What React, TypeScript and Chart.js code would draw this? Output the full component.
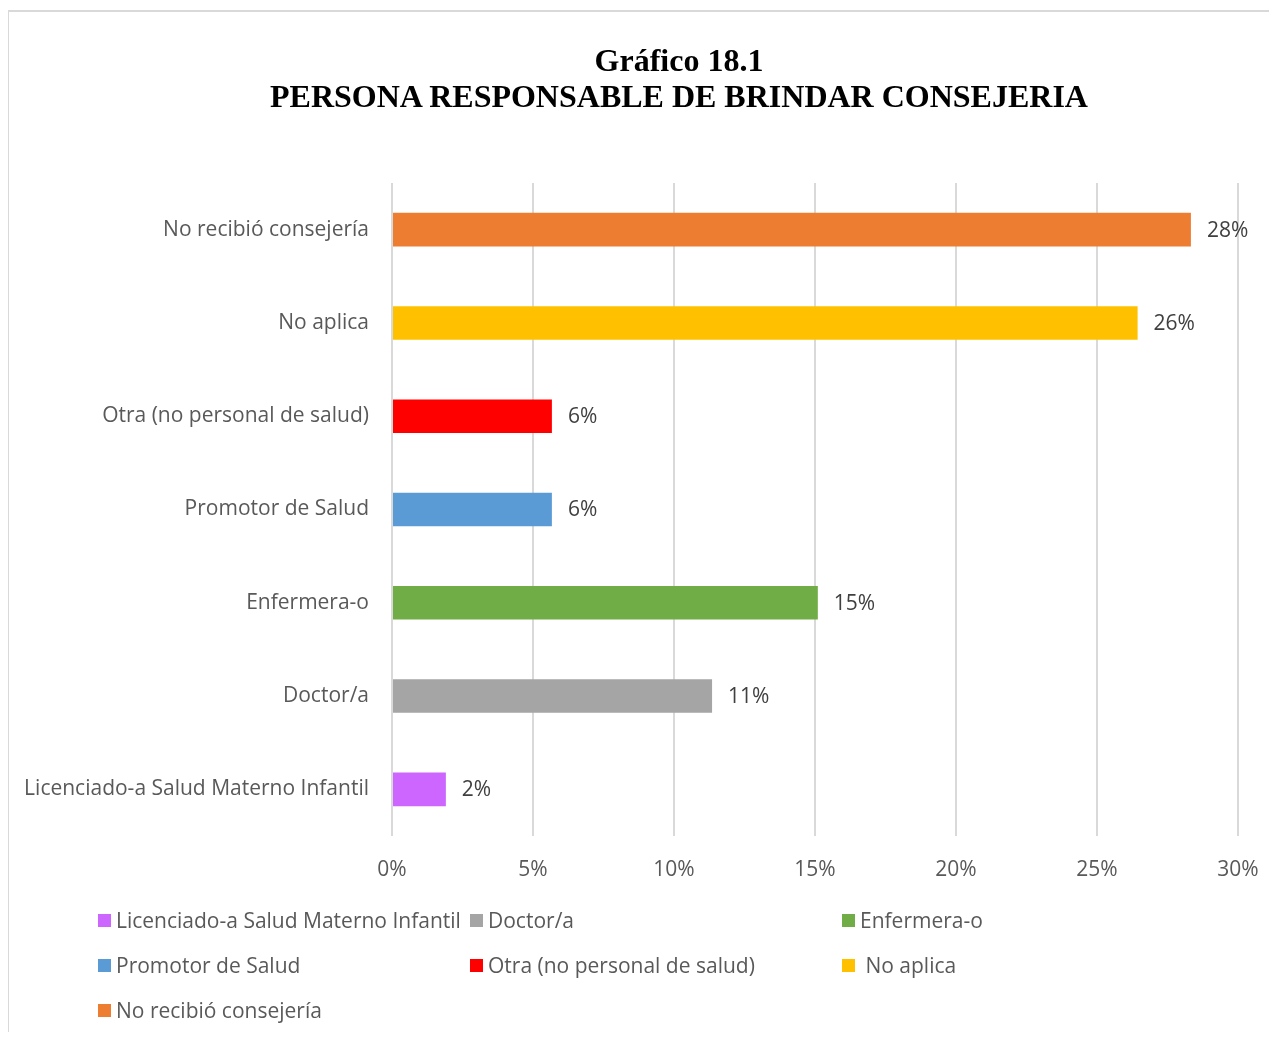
import React, { useEffect, useRef } from "react";
import { Chart, registerables } from "chart.js";

Chart.register(...registerables);

const titleLines = ["Gráfico 18.1", "PERSONA RESPONSABLE DE BRINDAR CONSEJERIA"];

const categories = [
  "No recibió consejería",
  "No aplica",
  "Otra (no personal de salud)",
  "Promotor de Salud",
  "Enfermera-o",
  "Doctor/a",
  "Licenciado-a Salud Materno Infantil",
];
const values = [28.33, 26.44, 5.67, 5.67, 15.1, 11.35, 1.91];
const valueLabels = ["28%", "26%", "6%", "6%", "15%", "11%", "2%"];
const barColors = ["#ED7D31", "#FFC000", "#FF0000", "#5B9BD5", "#70AD47", "#A5A5A5", "#CC66FF"];

const xMin = 0;
const xMax = 30;
const xStep = 5;

const legendLabels = [
  "Licenciado-a Salud Materno Infantil",
  "Doctor/a",
  "Enfermera-o",
  "Promotor de Salud",
  "Otra (no personal de salud)",
  " No aplica",
  "No recibió consejería",
];
const legendColors = ["#CC66FF", "#A5A5A5", "#70AD47", "#5B9BD5", "#FF0000", "#FFC000", "#ED7D31"];

const FONT = "'Open Sans', sans-serif";
const FONT_SIZE = 21;

const CANVAS_W = 1261;
const CANVAS_H = 1024;

export default function App() {
  const ref = useRef<HTMLCanvasElement | null>(null);

  useEffect(() => {
    if (!ref.current) return;
    const labelPlugin = {
      id: "valueLabels",
      afterDatasetsDraw(chart: any) {
        const ctx = chart.ctx;
        const meta = chart.getDatasetMeta(0);
        ctx.save();
        ctx.font = `${FONT_SIZE}px ${FONT}`;
        ctx.fillStyle = "#404040";
        ctx.textAlign = "left";
        ctx.textBaseline = "middle";
        meta.data.forEach((bar: any, i: number) => {
          ctx.fillText(valueLabels[i], bar.x + 16, bar.y + 1);
        });
        ctx.restore();
      },
    };

    const chart = new Chart(ref.current, {
      type: "bar",
      data: {
        labels: categories,
        datasets: [
          {
            data: values,
            backgroundColor: barColors,
            borderWidth: 0,
            barPercentage: 0.36,
            categoryPercentage: 1,
          },
        ],
      },
      options: {
        indexAxis: "y",
        animation: false,
        responsive: false,
        maintainAspectRatio: false,
        layout: { padding: { top: 175, right: 31, bottom: 0, left: 0 } },
        plugins: {
          legend: { display: false },
          title: { display: false },
          tooltip: { enabled: false },
        },
        scales: {
          x: {
            min: xMin,
            max: xMax,
            ticks: {
              stepSize: xStep,
              padding: 21,
              color: "#595959",
              font: { family: FONT, size: FONT_SIZE },
              callback: (v: any) => `${v}%`,
            },
            grid: { color: "#D9D9D9", lineWidth: 2, drawTicks: false },
            border: { display: false },
            afterFit: (s: any) => {
              s.height = CANVAS_H - 828;
              s.paddingRight = 0;
              s.paddingLeft = 0;
            },
          },
          y: {
            ticks: {
              padding: 23,
              color: "#595959",
              font: { family: FONT, size: FONT_SIZE },
            },
            grid: { display: false, drawTicks: false },
            border: { display: false },
            afterFit: (s: any) => {
              s.width = 384;
            },
          },
        },
      },
      plugins: [labelPlugin],
    });
    return () => chart.destroy();
  }, []);

  return (
    <div style={{ position: "relative", width: CANVAS_W, height: CANVAS_H }}>
      <div
        style={{
          position: "absolute",
          left: -1,
          top: 2,
          width: 1270,
          height: 1028,
          borderLeft: "2px solid #D9D9D9",
          borderTop: "2px solid #D9D9D9",
          boxSizing: "border-box",
        }}
      />
      <canvas
        ref={ref}
        width={CANVAS_W}
        height={CANVAS_H}
        style={{ position: "absolute", left: 0, top: 0, width: CANVAS_W, height: CANVAS_H }}
      />
      <div
        style={{
          position: "absolute",
          left: 71,
          top: 34,
          width: 1200,
          textAlign: "center",
          fontFamily: "'Liberation Serif', serif",
          fontWeight: "bold",
          fontSize: 32,
          lineHeight: "36px",
          color: "#000",
        }}
      >
        {titleLines.map((t, i) => (
          <div key={i}>{t}</div>
        ))}
      </div>
      {legendLabels.map((lab, i) => {
        const col = i % 3;
        const row = Math.floor(i / 3);
        const left = 90 + col * 372;
        const top = 912 + row * 45 - 14;
        return (
          <div
            key={i}
            style={{
              position: "absolute",
              left,
              top,
              height: 28,
              display: "flex",
              alignItems: "center",
              fontFamily: FONT,
              fontSize: FONT_SIZE,
              color: "#595959",
              whiteSpace: "pre",
            }}
          >
            <span
              style={{
                display: "inline-block",
                width: 13,
                height: 13,
                background: legendColors[i],
                marginRight: 5,
              }}
            />
            <span>{lab}</span>
          </div>
        );
      })}
    </div>
  );
}
